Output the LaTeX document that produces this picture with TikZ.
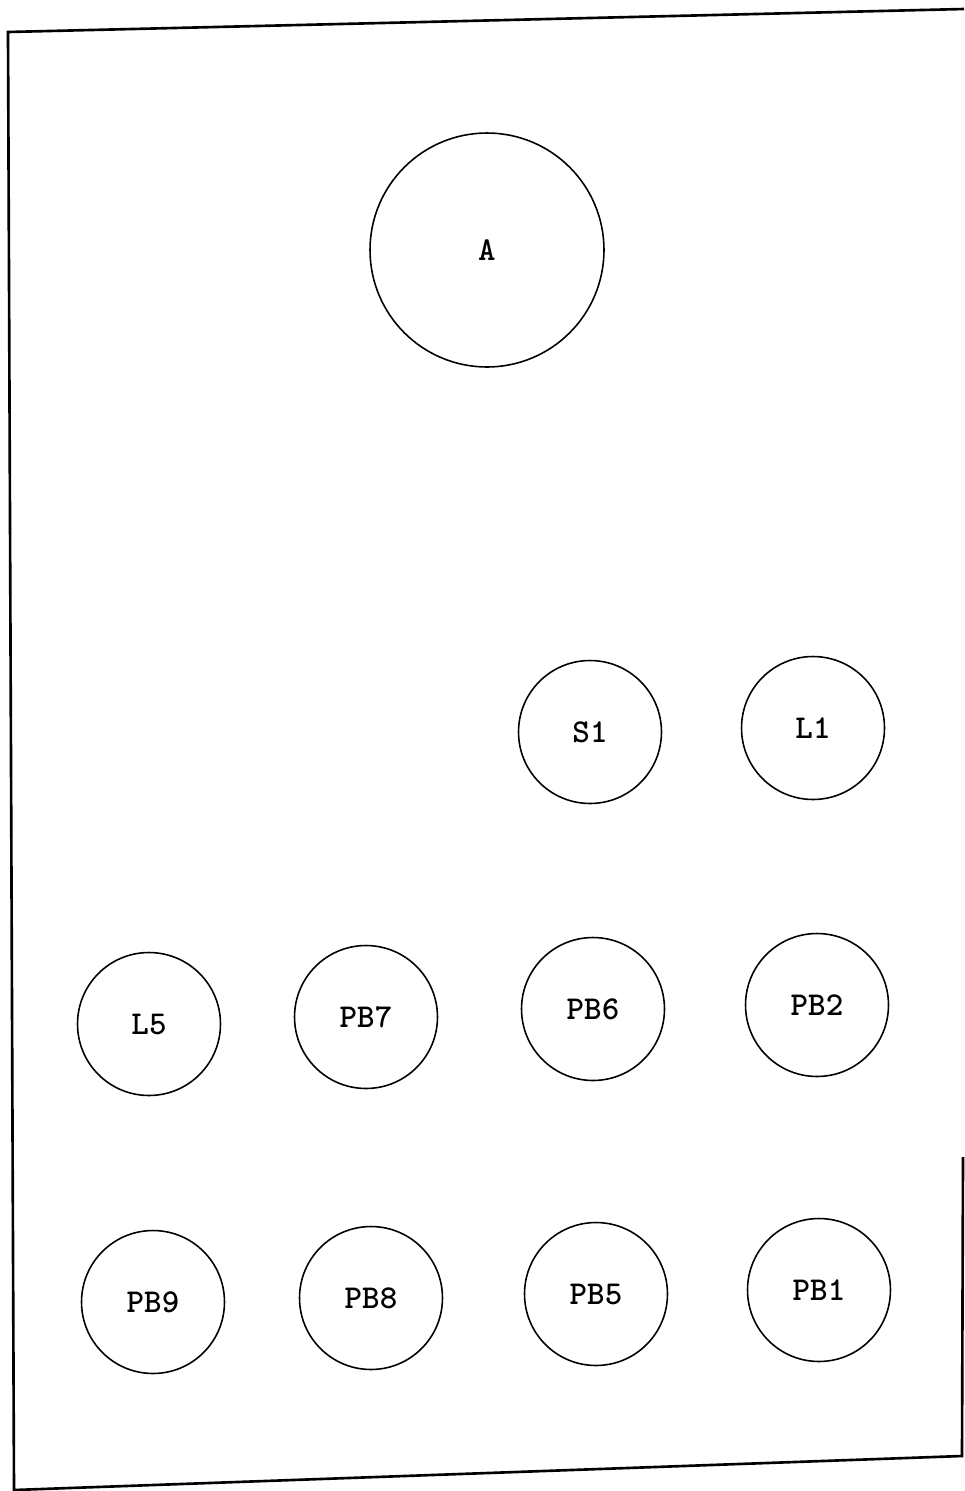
\documentclass[tikz,border=0pt]{standalone}
\usepackage{fontspec}
\begin{document}
\begin{tikzpicture}[x=0.02cm,y=-0.02cm,
    disc/.style={draw,circle,line width=0.9pt,inner sep=0pt,minimum size=2.86cm,
      font=\ttfamily\bfseries\fontsize{19}{19}\selectfont},
    bigdisc/.style={disc,minimum size=4.68cm}]
                \useasboundingbox (0,0) rectangle (964,1491);
                \draw[line width=1.5pt] (964,9) -- (8,32) -- (14,1490) -- (962,1456) -- (963,1157);
                \node[bigdisc] (A) at (487,250) {A};
                \node[disc] (S1) at (590,732) {S1};
                \node[disc] (L1) at (813,728) {L1};
                \node[disc] (L5) at (149,1024) {L5};
                \node[disc] (PB7) at (366,1017) {PB7};
                \node[disc] (PB6) at (593,1009) {PB6};
                \node[disc] (PB2) at (817,1005) {PB2};
                \node[disc] (PB9) at (153,1302) {PB9};
                \node[disc] (PB8) at (371,1298) {PB8};
                \node[disc] (PB5) at (596,1294) {PB5};
                \node[disc] (PB1) at (819,1290) {PB1};
            \end{tikzpicture}
\end{document}
